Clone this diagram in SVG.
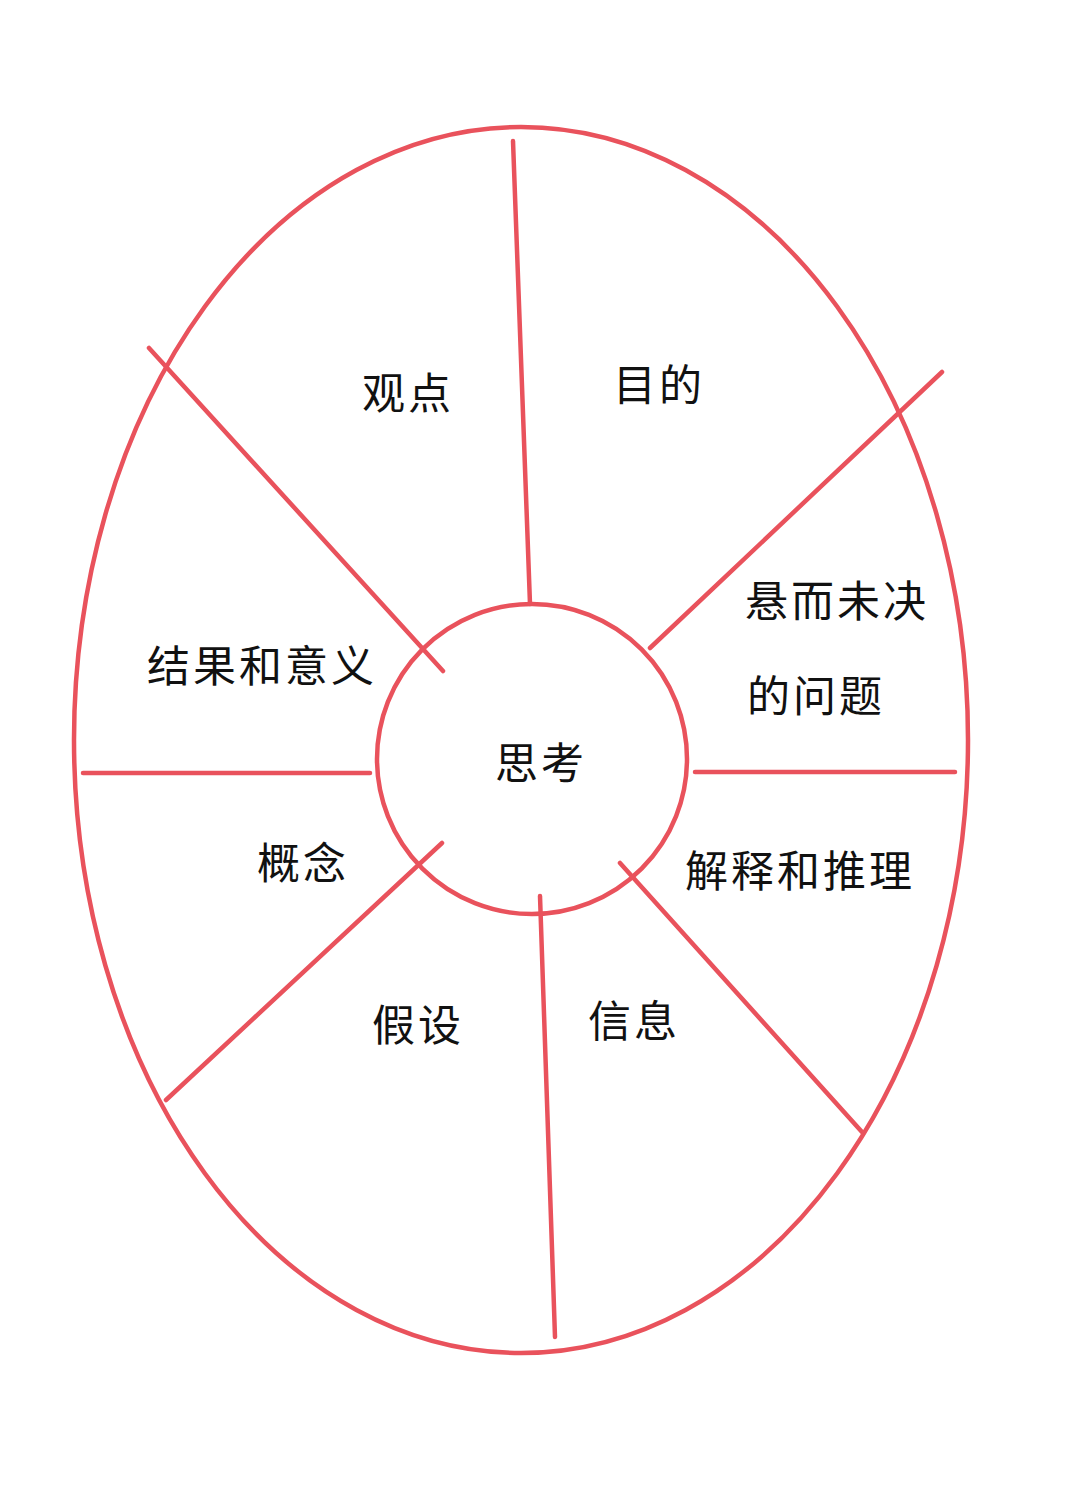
<svg xmlns="http://www.w3.org/2000/svg" width="1077" height="1490" viewBox="0 0 1077 1490">
<style>
.ring{fill:none;stroke:#e9525c;stroke-width:4.5}
.spoke{stroke:#e9525c;stroke-width:4.5;stroke-linecap:round}
.lbl{font-family:"Noto Sans CJK SC","Noto Sans CJK JP",sans-serif;font-size:43px;fill:#111;text-anchor:middle;dominant-baseline:central;letter-spacing:3px}
</style>
<rect width="1077" height="1490" fill="#ffffff"/>
<g id="outer"><ellipse class="ring" cx="521" cy="740" rx="447" ry="613"/></g>
<g id="connectors">
<line class="spoke" x1="513" y1="141" x2="530" y2="604"/>
<line class="spoke" x1="942" y1="372" x2="650" y2="648"/>
<line class="spoke" x1="695" y1="772" x2="955" y2="772"/>
<line class="spoke" x1="620" y1="863" x2="862" y2="1132"/>
<line class="spoke" x1="540" y1="896" x2="555" y2="1337"/>
<line class="spoke" x1="442" y1="843" x2="166" y2="1100"/>
<line class="spoke" x1="83" y1="773" x2="370" y2="773"/>
<line class="spoke" x1="149" y1="348" x2="443" y2="671"/>
</g>
<g id="center"><circle class="ring" cx="532" cy="759" r="155"/><text class="lbl" x="541" y="760">思考</text></g>
<g id="n-guandian"><text class="lbl" x="408" y="390">观点</text></g>
<g id="n-mudi"><text class="lbl" x="659" y="382">目的</text></g>
<g id="n-wenti"><text class="lbl" x="837" y="598">悬而未决</text><text class="lbl" x="816" y="693">的问题</text></g>
<g id="n-jieguo"><text class="lbl" x="262" y="663">结果和意义</text></g>
<g id="n-gainian"><text class="lbl" x="303" y="860">概念</text></g>
<g id="n-jieshi"><text class="lbl" x="800" y="868">解释和推理</text></g>
<g id="n-jiashe"><text class="lbl" x="418" y="1022">假设</text></g>
<g id="n-xinxi"><text class="lbl" x="634" y="1018">信息</text></g>
</svg>
